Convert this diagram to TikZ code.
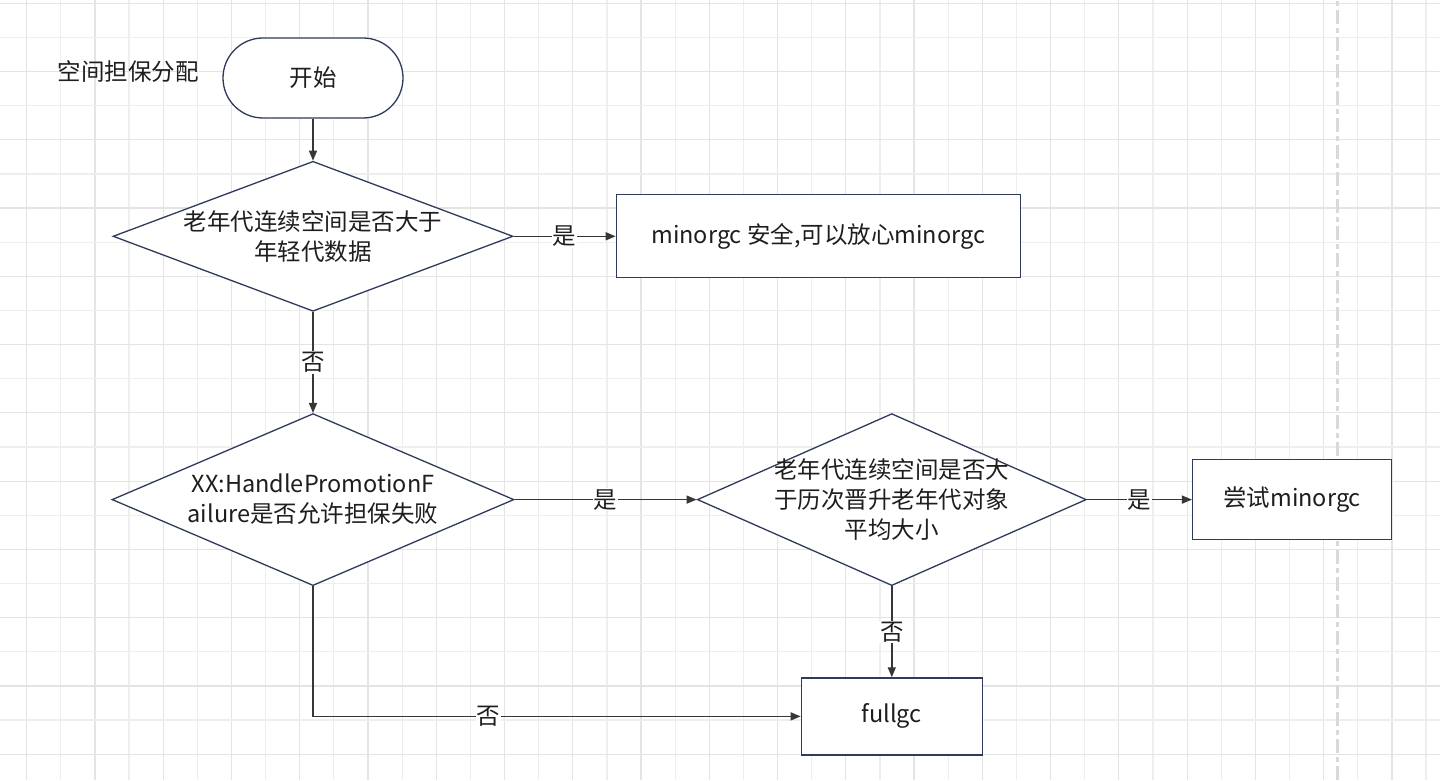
\documentclass[tikz,border=0pt]{standalone}
\usepackage{fontspec}
\setmainfont{Noto Sans CJK SC}
\usepackage{tikz}
\usetikzlibrary{positioning}
\usetikzlibrary{shapes.geometric, arrows.meta}
\definecolor{edgeblue}{RGB}{48,58,92}
\definecolor{linegray}{RGB}{55,55,55}
\definecolor{gridmajor}{RGB}{228,228,228}
\definecolor{gridminor}{RGB}{238,238,238}
\definecolor{txtgray}{RGB}{30,30,30}

\begin{document}
\begin{tikzpicture}
[
x=1pt, y=1pt,
font=\fontsize{23.5}{30}\selectfont,
node distance = 100pt,
start/.style={rectangle, rounded corners=40pt, fill=white, draw=edgeblue, line width=1.3pt, minimum width=180pt, minimum height=80pt, text=txtgray},
decision/.style={diamond, shape aspect=2.3, inner sep=-24pt, fill=white, draw=edgeblue, line width=1.3pt, align=center, text=txtgray},
process/.style={rectangle, fill=white, draw=edgeblue, line width=1.3pt, align=center, text=txtgray},
flow/.style={->, >={Triangle[length=10pt, width=8pt]}, linegray, line width=1.4pt},
choice/.style={fill=white, inner sep=1pt, text=txtgray},
]
\useasboundingbox (0,0) rectangle (1440,780);
\fill [white] (0,0) rectangle (1440,780);

% background grid
\foreach \i in {0,2,...,40} \draw [gridmajor, line width=1.2pt] ({26.7+34.13*\i},0) -- ({26.7+34.13*\i},780);
\foreach \i in {1,3,...,41} \draw [gridminor, line width=1.2pt] ({26.7+34.13*\i},0) -- ({26.7+34.13*\i},780);
\foreach \j in {0,2,...,22} \draw [gridmajor, line width=1.2pt] (0,{776.7-34.13*\j}) -- (1440,{776.7-34.13*\j});
\foreach \j in {1,3,...,21} \draw [gridminor, line width=1.2pt] (0,{776.7-34.13*\j}) -- (1440,{776.7-34.13*\j});
\draw [gray!30, line width=3pt, dash pattern=on 14pt off 4pt on 5pt off 4pt] (1337,0) -- (1337,780);

\node [text=txtgray] (title) at (128,708) {空间担保分配};
\node [start] (begin) at (313,702) {开始};

\node [decision, minimum width=400pt, minimum height=150pt, below = 42pt of begin] (oldspace) {老年代连续空间是否大于\\年轻代数据};
\node [process, minimum width=404pt, minimum height=83pt, right = 102pt of oldspace] (safe) {minorgc 安全,可以放心minorgc};

\node [decision, minimum width=402pt, minimum height=172pt, below = 101pt of oldspace] (handle) {XX:HandlePromotionF\\ailure是否允许担保失败};
\node [decision, minimum width=389pt, minimum height=172pt, right = 182pt of handle] (average) {老年代连续空间是否大\\于历次晋升老年代对象\\平均大小};
\node [process, minimum width=199pt, minimum height=80pt, right = 105pt of average] (tryminor) {尝试minorgc};

\node [process, minimum width=181pt, minimum height=77pt, below = 91pt of average] (fullgc) {fullgc};

\draw [flow] (begin) -- (oldspace);
\draw [flow] (oldspace) -- node[choice] (yes1) {是} (safe);
\draw [flow] (oldspace) -- node[choice] (no1) {否} (handle);
\draw [flow] (handle) -- node[choice] (yes2) {是} (average);
\draw [flow] (average) -- node[choice] (yes3) {是} (tryminor);
\draw [flow] (average) -- node[choice] (no3) {否} (fullgc);
\draw [flow] (handle.south) |- node[choice, pos=0.68] (no2) {否} (fullgc.west);
\end{tikzpicture}
\end{document}
